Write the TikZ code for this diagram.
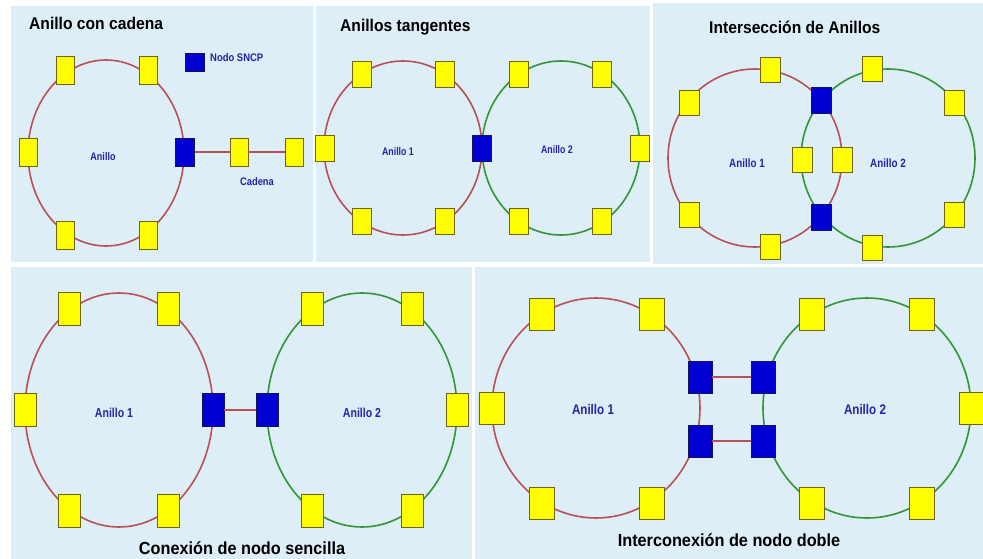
\documentclass[tikz,border=0pt]{standalone}
\usepackage{fontspec}
\setmainfont{Liberation Sans}
\usepackage{graphicx}
\definecolor{panelbg}{RGB}{221,238,246}
\definecolor{ringred}{RGB}{185,80,85}
\definecolor{ringgreen}{RGB}{50,150,55}
\definecolor{nodey}{RGB}{255,255,0}
\definecolor{nodeyb}{RGB}{110,100,20}
\definecolor{nodeb}{RGB}{0,0,210}
\definecolor{nodebb}{RGB}{20,20,90}
\definecolor{lblblue}{RGB}{35,35,170}
\newcommand{\narrowtxt}[2]{\scalebox{#1}[1]{#2}}
\tikzset{
  panel/.style={fill=panelbg, draw=none},
  redring/.style={draw=ringred, line width=1.6pt},
  greenring/.style={draw=ringgreen, line width=1.6pt},
  redlink/.style={draw=ringred, line width=1.6pt},
  ynode/.style={rectangle, draw=nodeyb, fill=nodey, line width=0.9pt, inner sep=0pt},
  bnode/.style={rectangle, draw=nodebb, fill=nodeb, line width=0.9pt, inner sep=0pt},
  ttl/.style={font=\bfseries\fontsize{17}{19}\selectfont, text=black, inner sep=0pt},
  lbl/.style={font=\bfseries\fontsize{#1}{#1}\selectfont, text=lblblue, inner sep=0pt},
}
\begin{document}
\begin{tikzpicture}[x=1pt,y=-1pt]
\useasboundingbox (0,0) rectangle (983,559);
\fill[white] (0,0) rectangle (983,559);
% panels
\fill[panel] (11,6) rectangle (313,262);
\fill[panel] (316,6) rectangle (650,262);
\fill[panel] (653,3) rectangle (983,264);
\fill[panel] (11,267) rectangle (472,559);
\fill[panel] (475,267) rectangle (983,559);

% ---------- Panel 1: Anillo con cadena ----------
\begin{scope}[ynode/.append style={minimum width=18pt,minimum height=28pt},
              bnode/.append style={minimum width=19pt,minimum height=28pt}]
\draw[redring] (106,153) ellipse [x radius=78, y radius=93];
\node[ynode] (p1a) at (65,70) {};
\node[ynode] (p1b) at (148,70) {};
\node[ynode] (p1c) at (28,152) {};
\node[ynode] (p1d) at (65,235) {};
\node[ynode] (p1e) at (148,235) {};
\node[bnode] (p1s) at (185,152) {};
\node[ynode] (p1f) at (239,152) {};
\node[ynode] (p1g) at (294,152) {};
\draw[redlink] (p1s) -- (p1f);
\draw[redlink] (p1f) -- (p1g);
\node[ttl, anchor=west] (t1) at (29,23) {\narrowtxt{0.92}{Anillo con cadena}};
\node[lbl=11] (l1) at (103,157) {\narrowtxt{0.82}{Anillo}};
\node[lbl=11] (l1c) at (257,182) {\narrowtxt{0.85}{Cadena}};
\node[bnode, minimum width=19pt, minimum height=18pt] (leg) at (195,62) {};
\node[lbl=11, anchor=west] (legt) at (210,58) {\narrowtxt{0.86}{Nodo SNCP}};
\end{scope}

% ---------- Panel 2: Anillos tangentes ----------
\begin{scope}[ynode/.append style={minimum width=19pt,minimum height=26pt},
              bnode/.append style={minimum width=19pt,minimum height=26pt}]
\draw[redring] (403,148) ellipse [x radius=79, y radius=87];
\draw[greenring] (561,148) ellipse [x radius=79, y radius=87];
\node[ynode] (p2a) at (362,74) {};
\node[ynode] (p2b) at (445,74) {};
\node[ynode] (p2c) at (325,148) {};
\node[ynode] (p2d) at (362,221) {};
\node[ynode] (p2e) at (445,221) {};
\node[bnode] (p2s) at (482,148) {};
\node[ynode] (p2f) at (519,74) {};
\node[ynode] (p2g) at (602,74) {};
\node[ynode] (p2h) at (640,148) {};
\node[ynode] (p2i) at (519,221) {};
\node[ynode] (p2j) at (602,221) {};
\node[ttl, anchor=west] (t2) at (340,27) {\narrowtxt{0.92}{Anillos tangentes}};
\node[lbl=11] (l2a) at (398,152) {\narrowtxt{0.8}{Anillo 1}};
\node[lbl=11] (l2b) at (557,150) {\narrowtxt{0.8}{Anillo 2}};
\end{scope}

% ---------- Panel 3: Interseccion de Anillos ----------
\begin{scope}[ynode/.append style={minimum width=20pt,minimum height=25pt},
              bnode/.append style={minimum width=20pt,minimum height=26pt}]
\draw[redring] (755,158) ellipse [x radius=87, y radius=89];
\draw[greenring] (888,158) ellipse [x radius=87, y radius=89];
\node[ynode] (p3a) at (770,70) {};
\node[ynode] (p3b) at (689,103) {};
\node[ynode] (p3c) at (689,215) {};
\node[ynode] (p3d) at (770,247) {};
\node[ynode] (p3e) at (842,160) {};
\node[bnode] (p3s) at (821,100) {};
\node[bnode] (p3t) at (821,217) {};
\node[ynode] (p3f) at (872,69) {};
\node[ynode] (p3g) at (954,103) {};
\node[ynode] (p3h) at (954,215) {};
\node[ynode] (p3i) at (872,248) {};
\node[ynode] (p3j) at (802,160) {};
\node[ttl, anchor=west] (t3) at (709,27) {\narrowtxt{0.92}{Intersección de Anillos}};
\node[lbl=12] (l3a) at (747,163) {\narrowtxt{0.82}{Anillo 1}};
\node[lbl=12] (l3b) at (888,163) {\narrowtxt{0.82}{Anillo 2}};
\end{scope}

% ---------- Panel 4: Conexion de nodo sencilla ----------
\begin{scope}[ynode/.append style={minimum width=22pt,minimum height=33pt},
              bnode/.append style={minimum width=22pt,minimum height=33pt}]
\draw[redring] (119,410) ellipse [x radius=94, y radius=117];
\draw[greenring] (362,410) ellipse [x radius=95, y radius=117];
\node[ynode] (p4a) at (69,309) {};
\node[ynode] (p4b) at (168,309) {};
\node[ynode] (p4c) at (25,410) {};
\node[ynode] (p4d) at (69,511) {};
\node[ynode] (p4e) at (168,511) {};
\node[bnode] (p4s) at (213,410) {};
\node[bnode] (p4t) at (267,410) {};
\node[ynode] (p4f) at (312,309) {};
\node[ynode] (p4g) at (412,309) {};
\node[ynode] (p4h) at (457,410) {};
\node[ynode] (p4i) at (312,511) {};
\node[ynode] (p4j) at (412,511) {};
\draw[redlink] (p4s) -- (p4t);
\node[lbl=13] (l4a) at (114,413) {\narrowtxt{0.81}{Anillo 1}};
\node[lbl=13] (l4b) at (362,413) {\narrowtxt{0.81}{Anillo 2}};
\node[ttl, font=\bfseries\fontsize{17.5}{19}\selectfont] (t4) at (242,548) {\narrowtxt{0.93}{Conexión de nodo sencilla}};
\end{scope}

% ---------- Panel 5: Interconexion de nodo doble ----------
\begin{scope}[ynode/.append style={minimum width=25pt,minimum height=32pt},
              bnode/.append style={minimum width=24pt,minimum height=32pt}]
\draw[redring] (596,408) ellipse [x radius=104, y radius=110];
\draw[greenring] (867,408) ellipse [x radius=104, y radius=110];
\node[ynode] (p5a) at (542,314) {};
\node[ynode] (p5b) at (652,314) {};
\node[ynode] (p5c) at (492,408) {};
\node[ynode] (p5d) at (542,503) {};
\node[ynode] (p5e) at (652,503) {};
\node[bnode] (p5s) at (700,377) {};
\node[bnode] (p5t) at (700,441) {};
\node[bnode] (p5u) at (763,377) {};
\node[bnode] (p5v) at (763,441) {};
\node[ynode] (p5f) at (812,314) {};
\node[ynode] (p5g) at (922,314) {};
\node[ynode] (p5h) at (972,408) {};
\node[ynode] (p5i) at (812,503) {};
\node[ynode] (p5j) at (922,503) {};
\draw[redlink] (p5s) -- (p5u);
\draw[redlink] (p5t) -- (p5v);
\node[lbl=14] (l5a) at (593,409) {\narrowtxt{0.83}{Anillo 1}};
\node[lbl=14] (l5b) at (865,409) {\narrowtxt{0.83}{Anillo 2}};
\node[ttl, font=\bfseries\fontsize{17.5}{19}\selectfont] (t5) at (729,540) {\narrowtxt{0.93}{Interconexión de nodo doble}};
\end{scope}
\end{tikzpicture}
\end{document}
